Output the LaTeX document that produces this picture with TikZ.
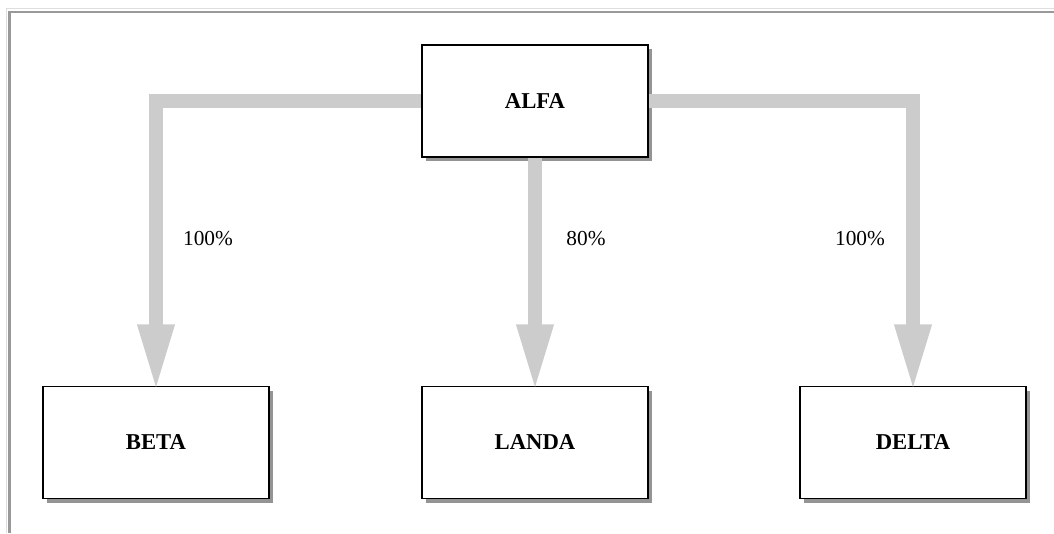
\documentclass[tikz,border=0pt]{standalone}
\usepackage{fontspec}
\setmainfont{Liberation Serif}
\usepackage{tikz}
\usetikzlibrary{arrows.meta,shadows}

\tikzset{
  unit/.style={draw=black, line width=1.2pt, fill=white, inner sep=0pt,
    minimum width=169.5pt, minimum height=84pt, font=\fontsize{17}{20}\selectfont\bfseries,
    drop shadow={shadow xshift=3.2pt, shadow yshift=-3.2pt, fill=black!42, opacity=1}},
  share/.style={line width=10.5pt, draw=black!20,
    -{Triangle[length=51pt, width=25pt]}, shorten >=-5pt},
  pct/.style={font=\fontsize{16}{19}\selectfont, inner sep=0.75pt}
}

\begin{document}
\begin{tikzpicture}[x=0.75pt,y=0.75pt,yscale=-1]
\useasboundingbox (0,0) rectangle (1054,533);

%Frame
\draw [color=black!13, line width=0.75pt] (6,533) -- (6,8) -- (1054,8) ;
\draw [color=black!40, line width=2.2pt] (9.5,533) -- (9.5,12) -- (1054,12) ;

%Boxes
\node [unit] (alfa) at (535,101) {ALFA};
\node [unit] (beta) at (156,442.5) {BETA};
\node [unit] (landa) at (535,442.5) {LANDA};
\node [unit] (delta) at (913,442.5) {DELTA};

%Holdings
\draw [share] (alfa.west) -| (beta.north) ;
\draw [share] (alfa.south) -- (landa.north) ;
\draw [share] (alfa.east) -| (delta.north) ;

% Text Node
\node [pct] (pbeta) at (208,239) {100\%};
% Text Node
\node [pct] (planda) at (586,239) {80\%};
% Text Node
\node [pct] (pdelta) at (860,239) {100\%};

\end{tikzpicture}
\end{document}
